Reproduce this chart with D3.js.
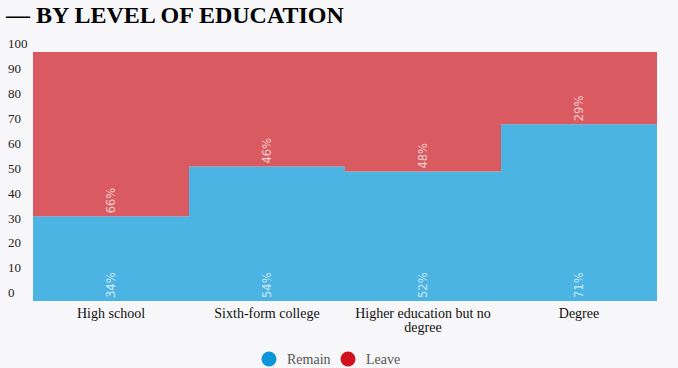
<!DOCTYPE html>
<html lang="en">
<head>
<meta charset="utf-8">
<title>By level of education</title>
<script src="https://d3js.org/d3.v7.min.js"></script>
<style>
  body {
    margin: 0;
    background-color: #f7f7f9;
  }
  .title {
    font-family: "Liberation Serif", serif;
    font-weight: bold;
    font-size: 24px;
    fill: #000;
  }
  .pct {
    font-family: "DejaVu Sans", sans-serif;
    font-size: 11.5px;
    fill: #fff;
    fill-opacity: .72;
  }
  .legend text {
    font-family: "Liberation Serif", serif;
    font-size: 14px;
    fill: #555;
  }
</style>
</head>
<body>
<div id="chart"></div>
<script>

var categories = ["High school", "Sixth-form college", "Higher education but no degree", "Degree"];
var remain = [34, 54, 52, 71];
var leave = [66, 46, 48, 29];
var yTicks = [0, 10, 20, 30, 40, 50, 60, 70, 80, 90, 100];
var seriesNames = ["Remain", "Leave"];

var width = 678;
var height = 368;
var margin = {top: 52, right: 21, bottom: 67, left: 33};

var svg = d3.select("#chart")
  .append("svg")
  .attr("width", width)
  .attr("height", height);

svg.append("text")
  .attr("class", "title")
  .attr("x", 6)
  .attr("y", 23)
  .text("\u2014 BY LEVEL OF EDUCATION");

var x = d3.scaleBand()
  .domain(categories)
  .range([margin.left, width - margin.right])
  .padding(0);

var y = d3.scaleLinear()
  .domain([0, 100])
  .range([height - margin.bottom, margin.top]);

var color = d3.scaleOrdinal()
  .domain(seriesNames)
  .range(["#4bb4e2", "#d95b61"]);

var legendColor = d3.scaleOrdinal()
  .domain(seriesNames)
  .range(["#0a96d8", "#d0121e"]);

// build rows for the stack
var rows = categories.map((c, i) => ({cat: c, Remain: remain[i], Leave: leave[i]}));
var stacked = d3.stack().keys(seriesNames)(rows);

svg.append("g")
  .selectAll("g")
  .data(stacked)
  .join("g")
  .attr("fill", d => color(d.key))
  .selectAll("rect")
  .data(d => d)
  .join("rect")
  .attr("x", d => x(d.data.cat))
  .attr("y", d => y(d[1]))
  .attr("width", x.bandwidth())
  .attr("height", d => y(d[0]) - y(d[1]));

// percentage labels, rotated
var labels = svg.append("g");
stacked.forEach(s => {
  labels.selectAll(null)
    .data(s)
    .join("text")
    .attr("class", "pct")
    .attr("text-anchor", "start")
    .attr("transform", d => "translate(" + (x(d.data.cat) + x.bandwidth() / 2 + 4) + "," + (y(d[0]) - 3) + ") rotate(-90)")
    .text(d => d.data[s.key] + "%");
});

// y axis
var yAxis = svg.append("g")
  .call(d3.axisLeft(y).tickValues(yTicks).tickSize(0))
  .attr("font-family", "'Liberation Serif', serif")
  .attr("font-size", 13);
yAxis.select(".domain").remove();
yAxis.selectAll("text")
  .attr("x", 8)
  .attr("dy", "-0.33em")
  .attr("fill", "#222")
  .attr("text-anchor", "start");

// x axis
var xAxis = svg.append("g")
  .attr("transform", "translate(0," + y(0) + ")")
  .call(d3.axisBottom(x).tickSize(0).tickPadding(7))
  .attr("font-family", "'Liberation Serif', serif")
  .attr("font-size", 14);
xAxis.select(".domain").remove();
xAxis.selectAll(".tick text")
  .attr("fill", "#111")
  .call(wrap, x.bandwidth() - 8);

function wrap(text, w) {
  text.each(function() {
    var t = d3.select(this);
    var words = t.text().split(/\s+/);
    var yy = t.attr("y");
    var dy = parseFloat(t.attr("dy"));
    var line = [];
    var lineNo = 0;
    var tspan = t.text(null).append("tspan").attr("x", 0).attr("y", yy).attr("dy", dy + "em");
    words.forEach(word => {
      line.push(word);
      tspan.text(line.join(" "));
      if (tspan.node().getComputedTextLength() > w && line.length > 1) {
        line.pop();
        tspan.text(line.join(" "));
        line = [word];
        tspan = t.append("tspan").attr("x", 0).attr("y", yy)
          .attr("dy", (++lineNo * 0.98 + dy) + "em").text(word);
      }
    });
  });
}

// legend
var legend = svg.append("g")
  .attr("class", "legend")
  .selectAll("g")
  .data(seriesNames)
  .join("g")
  .attr("transform", (d, i) => "translate(" + (269 + i * 79) + ",359)");

legend.append("circle")
  .attr("r", 7.5)
  .attr("fill", d => legendColor(d));

legend.append("text")
  .attr("x", 18)
  .attr("y", 4.5)
  .text(d => d);

</script>
</body>
</html>
